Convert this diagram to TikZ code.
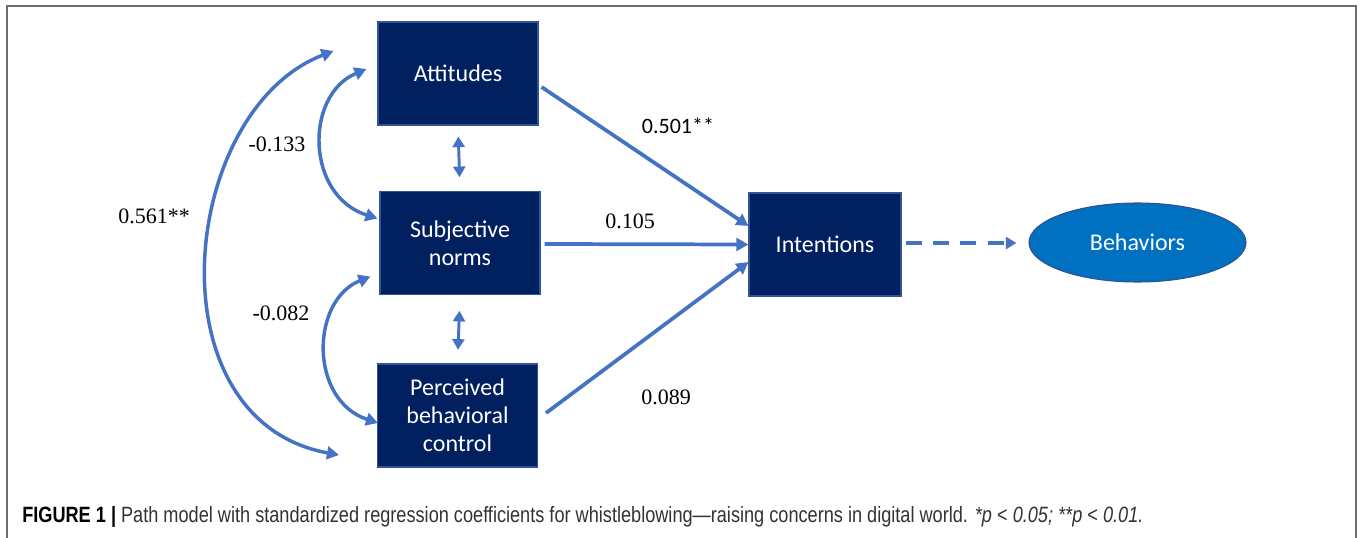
\documentclass[tikz,border=0pt]{standalone}
\usepackage{fontspec}
\setmainfont{Liberation Serif}
\newfontfamily\calfont{Carlito}
\newfontfamily\capfont[FakeStretch=0.82]{Liberation Sans}
\usetikzlibrary{arrows.meta,calc,shapes.geometric}
\definecolor{navy}{HTML}{002060}
\definecolor{navyedge}{HTML}{2F5597}
\definecolor{arrowblue}{HTML}{4472C4}
\definecolor{behfill}{HTML}{0070C0}
\definecolor{behedge}{HTML}{2F528F}
\definecolor{framegray}{HTML}{6E6E6E}
\definecolor{captext}{HTML}{333333}
\tikzset{
  box/.style={rectangle, fill=navy, draw=navyedge, line width=0.8pt, text=white,
    minimum width=120pt, minimum height=77.25pt, inner sep=2pt, align=center,
    font=\calfont\fontsize{18}{21}\selectfont},
  oval/.style={ellipse, fill=behfill, draw=behedge, line width=0.8pt, text=white,
    minimum width=162.75pt, minimum height=59.25pt, inner sep=0pt,
    font=\calfont\fontsize{18}{21}\selectfont},
  conn/.style={draw=arrowblue, line width=2.8pt, -{Triangle[length=9pt,width=9.5pt]}},
  curv/.style={draw=arrowblue, line width=2.6pt, {Triangle[length=9pt,width=9.5pt]}-{Triangle[length=9pt,width=9.5pt]}},
  dbl/.style={draw=arrowblue, line width=2.2pt, {Triangle[length=8pt,width=9pt]}-{Triangle[length=8pt,width=9pt]}},
  dashconn/.style={draw=arrowblue, line width=3pt, dash pattern=on 12pt off 8.5pt, -{Triangle[length=8pt,width=9pt]}},
  coef/.style={font=\fontsize{16.5}{20}\selectfont, inner sep=0pt},
  coefc/.style={font=\calfont\fontsize{16.5}{20}\selectfont, inner sep=0pt}
}
\begin{document}
\begin{tikzpicture}[x=0.75pt,y=-0.75pt]
\useasboundingbox (0,0) rectangle (1363,538);
% frame
\draw[framegray, line width=1.6pt] (7,545) -- (7,6) -- (1356,6) -- (1356,545);

% nodes
\node[box] (att) at (458,73.5) {Attitudes};
\node[box] (subj) at (460,243) {Subjective\\norms};
\node[box] (pbc) at (457.5,415.5) {Perceived\\behavioral\\control};
\node[box, minimum width=114pt] (int) at (825,244.5) {Intentions};
\node[oval] (beh) at (1137.5,242.5) {Behaviors};

% paths to intentions
\draw[conn] ($(att.east)+(3,13.5)$) -- ($(int.west)+(0,-18.5)$);
\draw[conn] ($(subj.east)+(4,1)$) -- ($(int.west)+(0,0)$);
\draw[conn] ($(pbc.east)+(8,-2.5)$) -- ($(int.west)+(0,17.5)$);
\draw[dashconn] ($(int.east)+(4,-1.5)$) -- ($(beh.west)+(-12,0.5)$);

% vertical correlations
\draw[dbl] ($(att.south)!0.167!(subj.north)$) -- ($(att.south)!0.79!(subj.north)$);
\draw[dbl] ($(subj.south)!0.23!(pbc.north)$) -- ($(subj.south)!0.8!(pbc.north)$);

% curved correlations
\draw[curv] ($(att.west)+(-44,-22.5)$) .. controls +(-154,59) and +(-190,-35) .. ($(pbc.west)+(-38,39.5)$);
\draw[curv] ($(att.west)+(-11,-4.5)$) .. controls +(-62,26) and +(-72,-23) .. ($(subj.west)+(-2,-24.5)$);
\draw[curv] ($(subj.west)+(-9,33.5)$) .. controls +(-60,24) and +(-69,-23) .. ($(pbc.west)+(1,7.5)$);

% coefficients
\node[coef] (c561) at (154,216) {0.561**};
\node[coef] (c133) at (277,144) {-0.133};
\node[coef] (c082) at (281,313) {-0.082};
\node[coefc] (c501) at (678,126) {0.501**};
\node[coef] (c105) at (630,221) {0.105};
\node[coef] (c089) at (666,397) {0.089};

% caption
\node[anchor=base west, inner sep=0pt, font=\capfont\fontsize{16.6}{18}\selectfont, text=captext] (cap) at (22,522.5)
  {{\color{black}\bfseries FIGURE 1 |} Path model with standardized regression coefficients for whistleblowing—raising concerns in digital world. \textit{*p} < \textit{0.05; **p} < \textit{0.01.}};
\end{tikzpicture}
\end{document}
